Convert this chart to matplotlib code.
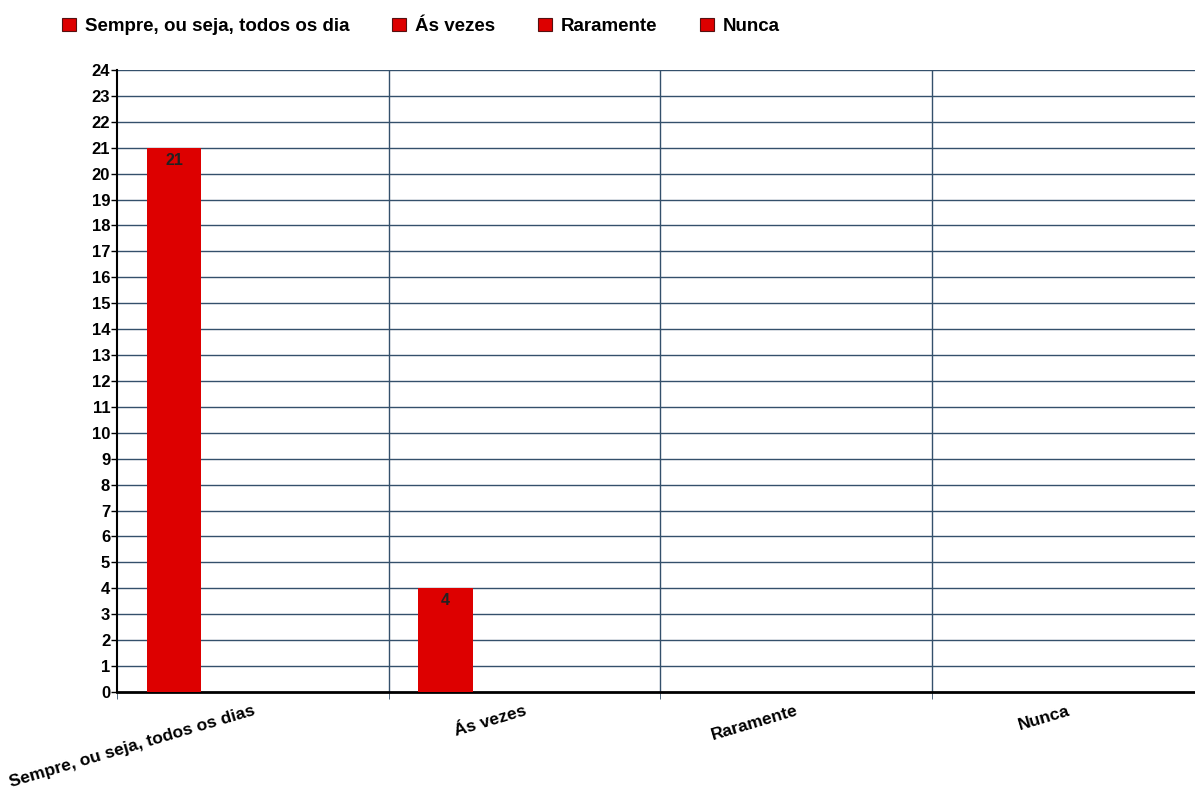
import numpy as np
import matplotlib.pyplot as plt
from matplotlib.patches import Patch

categories = ['Sempre, ou seja, todos os dias', 'Ás vezes', 'Raramente', 'Nunca']
legend_labels = ['Sempre, ou seja, todos os dia', 'Ás vezes', 'Raramente', 'Nunca']
values = [21, 4, 0, 0]

bar_color = '#dd0000'
grid_color = '#34506b'

plt.rcParams['font.family'] = ['Liberation Sans', 'DejaVu Sans']

fig = plt.figure(figsize=(11.95, 7.94), dpi=100)
ax = fig.add_axes([0.098, 0.1285, 0.902, 0.7834])

x = np.arange(len(categories))
bars = ax.bar(x - 0.29, values, width=0.2, color=bar_color, zorder=3)

for xi, v in zip(x, values):
    if v > 0:
        ax.text(xi - 0.29, v - 0.2, str(v), ha='center', va='top',
                fontsize=11.5, fontweight='bold', color='#222222', zorder=4)

ax.set_ylim(0, 24)
ax.set_xlim(-0.5, 3.47)
ax.set_yticks(range(0, 25))
ax.tick_params(axis='y', labelsize=12, length=4, width=1, pad=1)
for lbl in ax.get_yticklabels():
    lbl.set_fontweight('bold')

# horizontal grid lines
for yv in range(1, 25):
    ax.axhline(yv, color=grid_color, linewidth=1, zorder=1)
# vertical category separators
for xv in [0.5, 1.5, 2.5]:
    ax.axvline(xv, color=grid_color, linewidth=1, zorder=1)

ax.set_xticks(x)
ax.set_xticklabels(categories, rotation=16.5, ha='right', rotation_mode='anchor',
                   fontsize=12.5, fontweight='bold')
ax.tick_params(axis='x', length=0, pad=8)
ax.set_xticks([-0.5, 0.5, 1.5, 2.5], minor=True)
ax.tick_params(axis='x', which='minor', length=5, color=grid_color)

for side in ['top', 'right']:
    ax.spines[side].set_visible(False)
ax.spines['left'].set_linewidth(1.5)
ax.spines['bottom'].set_linewidth(2)

handles = [Patch(facecolor=bar_color, edgecolor='#551111', linewidth=0.8) for _ in legend_labels]
fig.legend(handles, legend_labels, loc='upper left', bbox_to_anchor=(0.038, 0.999),
           ncol=4, frameon=False, handlelength=0.75, handleheight=0.75,
           handletextpad=0.45, columnspacing=2.3,
           prop={'size': 13.5, 'weight': 'bold'})

fig.savefig('out.png', dpi=100)
